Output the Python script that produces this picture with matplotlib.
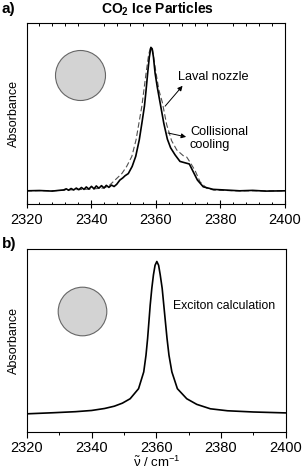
import matplotlib
matplotlib.use('Agg')
import matplotlib.pyplot as plt
from matplotlib.ticker import MultipleLocator

plt.rcParams['font.family'] = ['Liberation Sans', 'DejaVu Sans']
plt.rcParams['mathtext.fontset'] = 'custom'
plt.rcParams['mathtext.rm'] = 'Liberation Sans'
plt.rcParams['mathtext.bf'] = 'Liberation Sans:bold'
plt.rcParams['mathtext.it'] = 'Liberation Sans'

# panel a: collisional cooling (solid) and Laval nozzle (dashed)
coll_x = [2320, 2324, 2328, 2330, 2331.5, 2332.3, 2333.0, 2333.8, 2334.6, 2335.4, 2336.2,
          2337.0, 2337.8, 2338.5, 2339.3, 2340.1, 2340.9, 2341.6, 2342.4, 2343.2, 2344.0,
          2344.7, 2345.5, 2346.3, 2347.1, 2347.9, 2348.9, 2349.8, 2350.5, 2351.5, 2352.7,
          2353.8, 2354.9, 2355.7, 2356.5, 2357.0, 2357.5, 2358.0, 2358.5, 2358.9, 2359.3,
          2359.8, 2360.5, 2361.3, 2362.5, 2363.6, 2364.6, 2366.0, 2367.5, 2369.1, 2370.4,
          2371.6, 2372.9, 2374.7, 2377.8, 2382, 2386, 2390, 2394, 2400]
coll_y = [0.0, 0.002, -0.002, 0.003, 0.006, 0.014, 0.004, 0.016, 0.006, 0.019, 0.008,
          0.023, 0.010, 0.027, 0.012, 0.031, 0.014, 0.034, 0.018, 0.036, 0.020,
          0.038, 0.024, 0.040, 0.030, 0.045, 0.075, 0.090, 0.105, 0.120, 0.170,
          0.240, 0.355, 0.470, 0.590, 0.700, 0.820, 0.930, 1.0, 0.990, 0.930,
          0.820, 0.720, 0.620, 0.470, 0.360, 0.300, 0.250, 0.205, 0.195, 0.187,
          0.133, 0.075, 0.028, 0.010, 0.005, 0.0, 0.003, -0.002, 0.0]

laval_x = [2320, 2330, 2335, 2340, 2344, 2345.5, 2347.4, 2349.5, 2351.0, 2352.6, 2353.9,
           2355.7, 2357.0, 2357.8, 2358.4, 2359.0, 2360.1, 2361.0, 2362.0, 2363.4, 2364.9,
           2366.5, 2368.5, 2369.6, 2370.6, 2372.2, 2373.7, 2375.8, 2378, 2385, 2400]
laval_y = [0.0, 0.002, 0.008, 0.012, 0.020, 0.035, 0.075, 0.120, 0.170, 0.240, 0.355,
           0.590, 0.820, 0.950, 1.0, 0.980, 0.820, 0.700, 0.620, 0.460, 0.350,
           0.285, 0.245, 0.235, 0.200, 0.140, 0.063, 0.017, 0.005, 0.0, 0.0]

# panel b: exciton calculation
exc_x = [2320, 2328, 2335, 2340, 2344, 2347, 2349.5, 2351.9, 2354.5, 2356.1, 2356.8,
         2357.3, 2357.7, 2358.1, 2358.6, 2359.1, 2359.6, 2360.15, 2360.7, 2361.2, 2361.8,
         2362.3, 2362.8, 2363.3, 2363.9, 2364.8, 2366.5, 2369.4, 2372.5, 2376.7, 2382,
         2390, 2400]
exc_y = [0.0, 0.007, 0.014, 0.022, 0.035, 0.050, 0.070, 0.099, 0.165, 0.275, 0.385,
         0.495, 0.604, 0.714, 0.824, 0.912, 0.975, 1.0, 0.975, 0.912, 0.824,
         0.714, 0.604, 0.495, 0.385, 0.275, 0.165, 0.099, 0.062, 0.033, 0.020,
         0.012, 0.006]

xticks = [2320, 2340, 2360, 2380, 2400]

fig = plt.figure(figsize=(3.03, 4.75), dpi=100)
ax1 = fig.add_axes([0.0875, 0.5705, 0.853, 0.3817])
ax2 = fig.add_axes([0.089, 0.0900, 0.854, 0.3858])

# ---- panel a ----
ax1.plot(laval_x, laval_y, color='#505050', lw=0.8, ls=(0, (5, 2.5)))
ax1.plot(coll_x, coll_y, color='black', lw=1.2)
ax1.set_xlim(2320, 2400)
ax1.set_ylim(-0.092, 1.172)
ax1.set_yticks([])
ax1.set_xticks(xticks)
ax1.xaxis.set_minor_locator(MultipleLocator(4))
ax1.tick_params(axis='x', which='major', direction='inout', length=5.5, width=0.8,
                labelsize=10.5, pad=3.5, top=False)
ax1.tick_params(axis='x', which='minor', direction='in', length=1.8, width=0.7,
                top=True, bottom=True)
ax1.set_ylabel('Absorbance', fontsize=9, labelpad=5)
ax1.plot([0.207], [0.712], 'o', transform=ax1.transAxes, ms=36,
         mfc='#d3d3d3', mec='#666666', mew=0.8)

ax1.annotate('', xy=(2368.3, 0.732), xytext=(2362.9, 0.59),
             arrowprops=dict(arrowstyle='-|>', lw=0.7, color='black', mutation_scale=7,
                             shrinkA=0, shrinkB=0))
ax1.annotate('', xy=(2369.4, 0.376), xytext=(2363.8, 0.403),
             arrowprops=dict(arrowstyle='-|>', lw=0.7, color='black', mutation_scale=7,
                             shrinkA=0, shrinkB=0))
ax1.text(2366.9, 0.79, 'Laval nozzle', fontsize=9.2, va='center', ha='left')
ax1.text(2370.6, 0.365, 'Collisional\ncooling', fontsize=9.2, va='center', ha='left',
         linespacing=1.1)

# ---- panel b ----
ax2.plot(exc_x, exc_y, color='black', lw=1.2)
ax2.set_xlim(2320, 2400)
ax2.set_ylim(-0.121, 1.082)
ax2.set_yticks([])
ax2.set_xticks(xticks)
ax2.xaxis.set_minor_locator(MultipleLocator(10))
ax2.tick_params(axis='x', which='major', direction='out', length=4, width=0.8,
                labelsize=10.5, pad=2.5)
ax2.tick_params(axis='x', which='minor', direction='out', length=2.4, width=0.7)
ax2.set_ylabel('Absorbance', fontsize=9, labelpad=5)
ax2.set_xlabel(r'$\tilde{\nu}$ / cm$^{-1}$', fontsize=9.5, labelpad=0)
ax2.plot([0.213], [0.664], 'o', transform=ax2.transAxes, ms=35,
         mfc='#d3d3d3', mec='#666666', mew=0.8)
ax2.text(2365.0, 0.71, 'Exciton calculation', fontsize=8.8, va='center', ha='left')

for ax in (ax1, ax2):
    for s in ax.spines.values():
        s.set_linewidth(0.8)

fig.text(0.005, 0.981, 'a)', fontsize=11, fontweight='bold', va='center', ha='left')
fig.text(0.005, 0.486, 'b)', fontsize=11, fontweight='bold', va='center', ha='left')
fig.text(0.52, 0.981, r'CO$_\mathbf{2}$ Ice Particles', fontsize=10, fontweight='bold',
         va='center', ha='center')

fig.savefig('out.png', dpi=100)
